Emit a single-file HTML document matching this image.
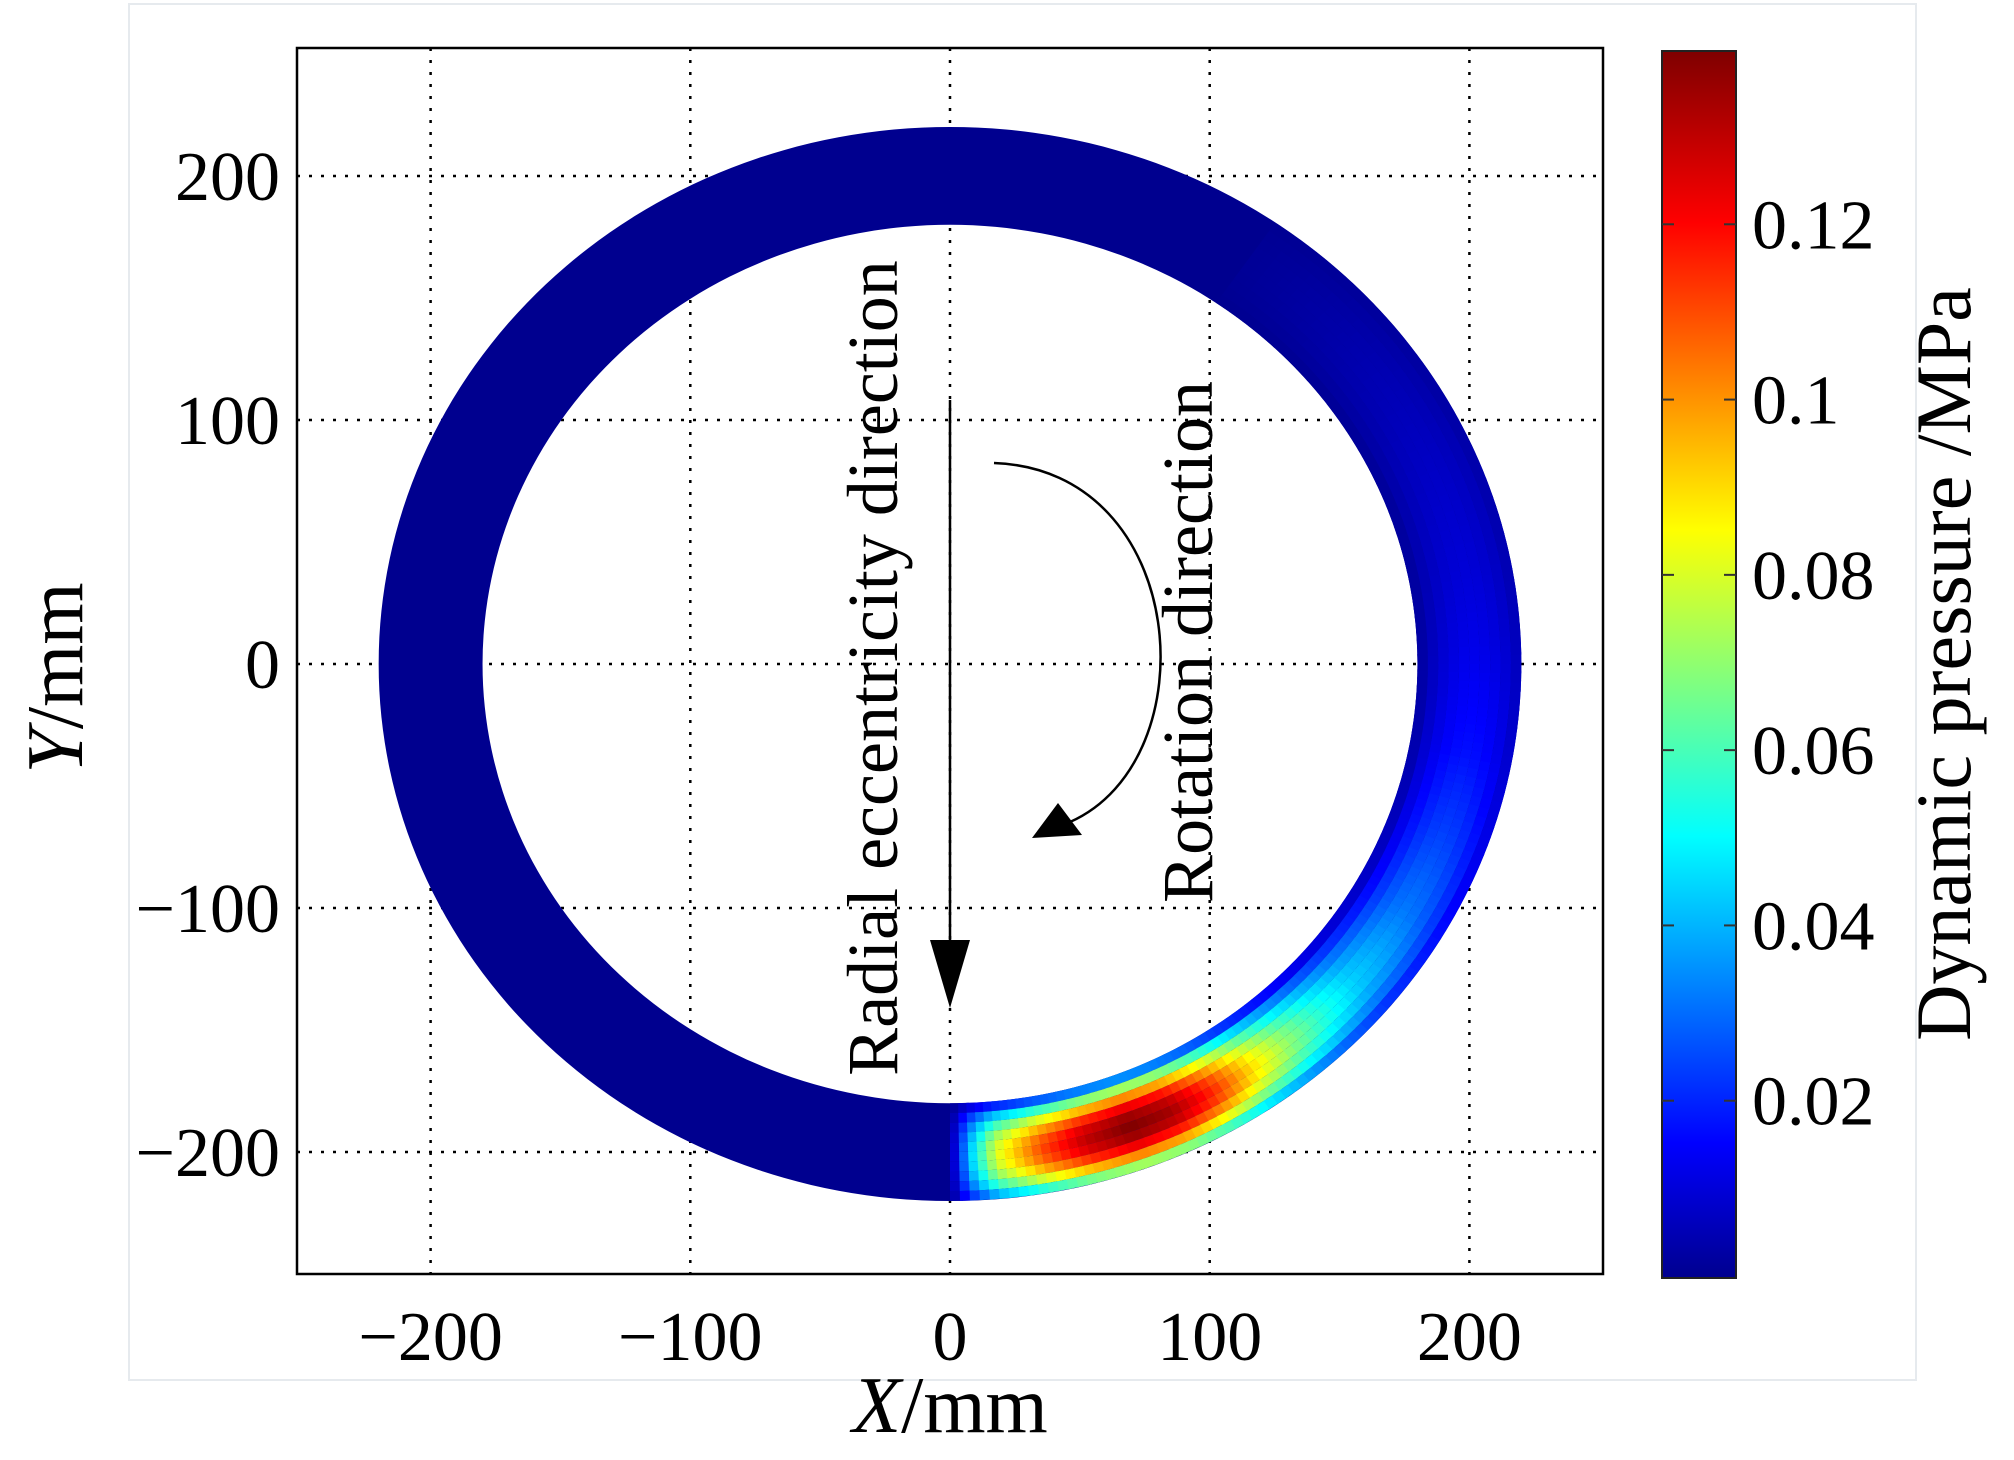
<!DOCTYPE html>
<html><head><meta charset="utf-8"><style>
html,body{margin:0;padding:0;background:#fff;}
svg{display:block;font-family:"Liberation Serif",serif;}
</style></head><body>
<svg id="chart" width="2014" height="1460" viewBox="0 0 2014 1460" xmlns="http://www.w3.org/2000/svg">
<rect x="129" y="4" width="1787" height="1376" fill="#fff" stroke="#e6eaee" stroke-width="2"/>
<g id="grid"></g>
<g id="ring"></g>
<rect x="297" y="48" width="1306" height="1226" fill="none" stroke="#000" stroke-width="2.5"/>
<g id="ticks" font-size="70"></g>
<text x="950" y="1432" font-size="80" text-anchor="middle"><tspan font-style="italic">X</tspan>/mm</text>
<text transform="translate(82,678) rotate(-90)" font-size="80" text-anchor="middle"><tspan font-style="italic">Y</tspan>/mm</text>
<g>
<line x1="950" y1="400" x2="950" y2="960" stroke="#000" stroke-width="2.5"/>
<polygon points="930,940 970,940 950,1008" fill="#000"/>
</g>
<text transform="translate(897,668) rotate(-90)" font-size="72" text-anchor="middle">Radial eccentricity direction</text>
<g>
<path d="M994 463 C1190 470, 1210 760, 1070 822" fill="none" stroke="#000" stroke-width="2.5"/>
<polygon points="1032,838 1058,803 1082,835" fill="#000"/>
</g>
<text transform="translate(1212,642) rotate(-90)" font-size="72" text-anchor="middle">Rotation direction</text>
<defs><linearGradient id="jet" x1="0" y1="1" x2="0" y2="0">
<stop offset="0" stop-color="#00008f"/><stop offset="0.11" stop-color="#0000ff"/>
<stop offset="0.36" stop-color="#00ffff"/><stop offset="0.61" stop-color="#ffff00"/>
<stop offset="0.86" stop-color="#ff0000"/><stop offset="1" stop-color="#7f0000"/>
</linearGradient></defs>
<rect x="1662" y="51" width="74" height="1227" fill="url(#jet)" stroke="#222" stroke-width="2"/>
<g id="cbticks" font-size="70"></g>
<text transform="translate(1970,664) rotate(-90)" font-size="78" text-anchor="middle">Dynamic pressure /MPa</text>
</svg>
<script>
const xTicks = [-200, -100, 0, 100, 200];
const yTicks = [-200, -100, 0, 100, 200];
const cbTicks = [0.02, 0.04, 0.06, 0.08, 0.1, 0.12];
const cbTickLabels = ["0.02", "0.04", "0.06", "0.08", "0.1", "0.12"];
const anglesDeg = [-92, -90, -88, -85, -80, -75, -70, -65, -60, -55, -50, -45, -40, -30, -20, -10, 0, 10, 20, 30, 40, 50, 60, 70];
const pressures = [0, 0.0, 0.04, 0.08, 0.11, 0.13, 0.14, 0.134, 0.115, 0.09, 0.07, 0.055, 0.044, 0.032, 0.024, 0.017, 0.013, 0.01, 0.008, 0.006, 0.004, 0.002, 0, 0];
const innerR = 180, outerR = 220, vMax = 0.14;

const NS = "http://www.w3.org/2000/svg";
const X = v => 950 + v * 2.597;
const Y = v => 664 - v * 2.44;
const CB = v => 1276 - v / vMax * 1227;
function mk(tag, attrs, parent){const e=document.createElementNS(NS,tag);for(const k in attrs)e.setAttribute(k,attrs[k]);parent.appendChild(e);return e;}
function jet(t){
  t=Math.max(0,Math.min(1,t));
  const st=[[0,0,0,143],[0.11,0,0,255],[0.36,0,255,255],[0.61,255,255,0],[0.86,255,0,0],[1,127,0,0]];
  for(let i=1;i<st.length;i++){if(t<=st[i][0]){const a=st[i-1],b=st[i],f=(t-a[0])/(b[0]-a[0]);
    return `rgb(${Math.round(a[1]+(b[1]-a[1])*f)},${Math.round(a[2]+(b[2]-a[2])*f)},${Math.round(a[3]+(b[3]-a[3])*f)})`;}}
  return "rgb(127,0,0)";
}
function pAt(deg){
  if(deg<anglesDeg[0]||deg>anglesDeg[anglesDeg.length-1])return 0;
  for(let i=1;i<anglesDeg.length;i++){if(deg<=anglesDeg[i]){const f=(deg-anglesDeg[i-1])/(anglesDeg[i]-anglesDeg[i-1]);return pressures[i-1]+(pressures[i]-pressures[i-1])*f;}}
  return 0;
}
const grid=document.getElementById('grid');
xTicks.forEach(v=>{const l=mk('line',{x1:X(v),x2:X(v),y1:48,y2:1274,stroke:'#000','stroke-width':2.5,'stroke-dasharray':'3 9'},grid);

});
yTicks.forEach(v=>{const l=mk('line',{x1:297,x2:1603,y1:Y(v),y2:Y(v),stroke:'#000','stroke-width':2.5,'stroke-dasharray':'3 9'},grid);

});
const ring=document.getElementById('ring');
const base=mk('path',{d:`M${X(-outerR)} ${Y(0)} A${outerR*2.597} ${outerR*2.44} 0 1 0 ${X(outerR)} ${Y(0)} A${outerR*2.597} ${outerR*2.44} 0 1 0 ${X(-outerR)} ${Y(0)} Z M${X(-innerR)} ${Y(0)} A${innerR*2.597} ${innerR*2.44} 0 1 1 ${X(innerR)} ${Y(0)} A${innerR*2.597} ${innerR*2.44} 0 1 1 ${X(-innerR)} ${Y(0)} Z`,fill:'#00008f','fill-rule':'evenodd'},ring);


const dA=1, nR=10, dR=(outerR-innerR)/nR;
for(let a=anglesDeg[0];a<anglesDeg[anglesDeg.length-1];a+=dA){
  const pc=pAt(a+dA/2); if(pc<=0.001)continue;
  for(let j=0;j<nR;j++){
    const r0=innerR+j*dR,r1=r0+dR,rm=(r0+r1)/2;
    const u=(rm-202)/20;
    const v=pc*Math.max(0,1-0.75*u*u);
    const a0=a*Math.PI/180,a1=(a+dA+0.3)*Math.PI/180;
    const pts=[[r0,a0],[r1,a0],[r1,a1],[r0,a1]].map(([r,t])=>`${X(r*Math.cos(t)).toFixed(1)},${Y(r*Math.sin(t)).toFixed(1)}`).join(' ');
    const c=mk('polygon',{points:pts,fill:jet(v/vMax)},ring);
    
    
  }
}
const ticks=document.getElementById('ticks');
xTicks.forEach(v=>{const t=mk('text',{x:X(v),y:1360,'text-anchor':'middle'},ticks);t.textContent=(v<0?'\u2212':'')+Math.abs(v);

});
yTicks.forEach(v=>{const t=mk('text',{x:280,y:Y(v)+24,'text-anchor':'end'},ticks);t.textContent=(v<0?'\u2212':'')+Math.abs(v);

});
const cbt=document.getElementById('cbticks');
cbTicks.forEach((v,i)=>{
  mk('line',{x1:1662,x2:1674,y1:CB(v),y2:CB(v),stroke:'#333','stroke-width':2},cbt);
  mk('line',{x1:1724,x2:1736,y1:CB(v),y2:CB(v),stroke:'#333','stroke-width':2},cbt);
  const t=mk('text',{x:1752,y:CB(v)+24},cbt);t.textContent=cbTickLabels[i];
  
  
});
</script>
</body></html>
